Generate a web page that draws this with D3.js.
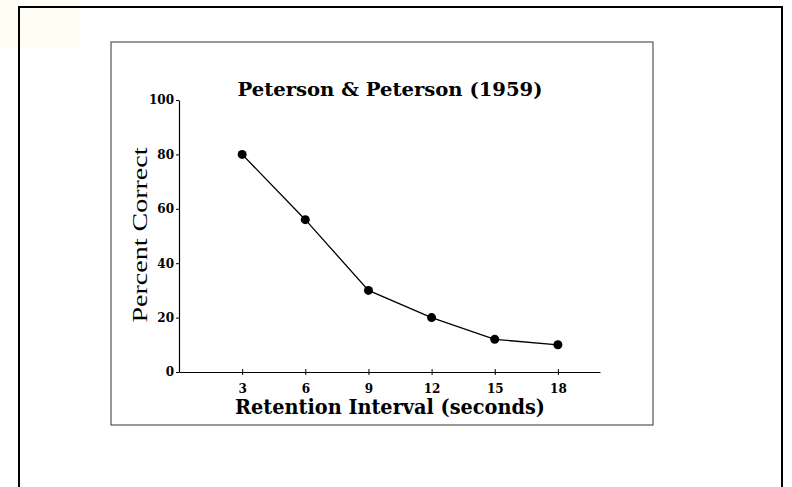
<!DOCTYPE html>
<html>
<head>
<meta charset="utf-8">
<script src="https://cdn.jsdelivr.net/npm/d3@7"></script>
<style>
  body { margin: 0; background: #fff; }
  text { font-family: "DejaVu Serif", "Liberation Serif", serif; fill: #000; }
</style>
</head>
<body>
<div id="chart"></div>
<script>
// data
var intervals = [3, 6, 9, 12, 15, 18];
var percentCorrect = [80, 56, 30, 20, 12, 10];
var xTicks = [3, 6, 9, 12, 15, 18];
var yTicks = [0, 20, 40, 60, 80, 100];

var W = 792, H = 487;

var svg = d3.select("#chart").append("svg")
    .attr("width", W)
    .attr("height", H);

// faint tint top-left (slide background)
svg.append("rect")
    .attr("x", 0).attr("y", 0)
    .attr("width", 80).attr("height", 48)
    .attr("fill", "#fffef4");

// outer slide frame
svg.append("rect")
    .attr("x", 19).attr("y", 7)
    .attr("width", 763).attr("height", 500)
    .attr("fill", "none")
    .attr("stroke", "#000")
    .attr("stroke-width", 2);

// figure box
svg.append("rect")
    .attr("x", 111).attr("y", 42)
    .attr("width", 542).attr("height", 383)
    .attr("fill", "#fff")
    .attr("stroke", "#555")
    .attr("stroke-width", 1.2);

var x = d3.scaleLinear().domain([0, 20]).range([179, 600]);
var y = d3.scaleLinear().domain([0, 100]).range([372, 100]);

// x axis
var gx = svg.append("g")
    .attr("transform", "translate(0," + y(0) + ")")
    .call(d3.axisBottom(x).tickValues(xTicks).tickSize(3).tickSizeOuter(0).tickPadding(9));
gx.select(".domain").attr("stroke", "#000").attr("stroke-width", 1.2);
gx.selectAll(".tick line").attr("y1", -3).attr("stroke-width", 1);
gx.selectAll(".tick text")
    .style("font-size", "12px")
    .style("font-weight", "bold")
    .style("font-family", "'DejaVu Serif', serif");

// y axis
var gy = svg.append("g")
    .attr("transform", "translate(" + x(0) + ",0)")
    .call(d3.axisLeft(y).tickValues(yTicks).tickSize(3).tickSizeOuter(0).tickPadding(2));
gy.select(".domain").attr("stroke", "#000").attr("stroke-width", 1.2);
gy.selectAll(".tick text")
    .style("font-size", "12px")
    .style("font-weight", "bold")
    .style("font-family", "'DejaVu Serif', serif");

// line
var pts = intervals.map(function(d, i) { return { t: d, p: percentCorrect[i] }; });
var linea = d3.line()
    .x(function(d) { return x(d.t); })
    .y(function(d) { return y(d.p); });

svg.append("path")
    .datum(pts)
    .attr("fill", "none")
    .attr("stroke", "#000")
    .attr("stroke-width", 1.3)
    .attr("d", linea);

svg.selectAll("circle.pt").data(pts).enter()
    .append("circle")
    .attr("class", "pt")
    .attr("cx", function(d) { return x(d.t); })
    .attr("cy", function(d) { return y(d.p); })
    .attr("r", 4.5)
    .attr("fill", "#000");

// title
svg.append("text")
    .attr("x", 390).attr("y", 96)
    .attr("text-anchor", "middle")
    .attr("textLength", 305)
    .attr("lengthAdjust", "spacingAndGlyphs")
    .style("font-size", "18px")
    .style("font-weight", "bold")
    .text("Peterson & Peterson (1959)");

// x label
svg.append("text")
    .attr("x", 390).attr("y", 414)
    .attr("text-anchor", "middle")
    .attr("textLength", 310)
    .attr("lengthAdjust", "spacingAndGlyphs")
    .style("font-size", "20px")
    .style("font-weight", "bold")
    .text("Retention Interval (seconds)");

// y label
svg.append("text")
    .attr("transform", "translate(147,235) rotate(-90)")
    .attr("text-anchor", "middle")
    .attr("textLength", 175)
    .attr("lengthAdjust", "spacingAndGlyphs")
    .style("font-size", "21px")
    .style("font-family", "'Liberation Serif', serif")
    .text("Percent Correct");
</script>
</body>
</html>
